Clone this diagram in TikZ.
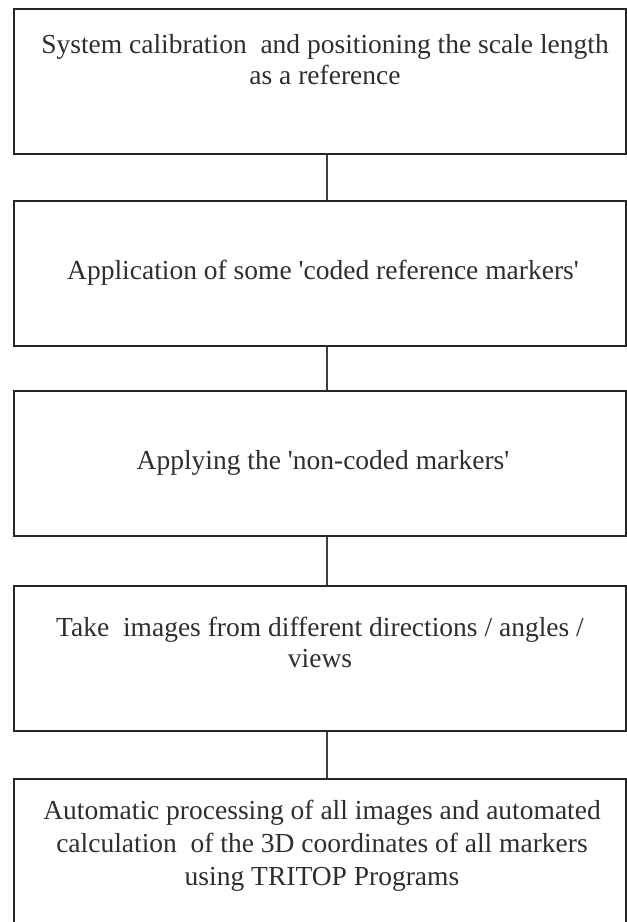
\documentclass[tikz,border=0pt]{standalone}
\usepackage{fontspec}
\setmainfont{Liberation Serif}
\begin{document}
\begin{tikzpicture}[x=1pt,y=-1pt,
  stepbox/.style={draw=black!85,line width=2pt,minimum width=612pt,minimum height=145pt,inner sep=0pt},
  steptext/.style={align=center,inner sep=0pt,text=black!82,font=\fontsize{27.5}{31}\selectfont},
  link/.style={draw=black!75,line width=1.5pt}]
\useasboundingbox (0,0) rectangle (627,922);
\node[stepbox] (s1) at (320,81.5) {};
\node[stepbox] (s2) at (320,273.5) {};
\node[stepbox] (s3) at (320,463.5) {};
\node[stepbox] (s4) at (320,658) {};
\node[stepbox] (s5) at (320,851) {};
\node[steptext] (t1) at (325,60) {System calibration \ and positioning the scale length\\as a reference};
\node[steptext] (t2) at (323,273) {Application of some \textquotesingle coded reference markers\textquotesingle};
\node[steptext] (t3) at (323,463) {Applying the \textquotesingle non-coded markers\textquotesingle};
\node[steptext] (t4) at (320,642) {Take \ images from different directions / angles /\\views};
\node[steptext,font=\fontsize{27.5}{33}\selectfont] (t5) at (322,846) {Automatic processing of all images and automated\\calculation \ of the 3D coordinates of all markers\\using TRITOP Programs};
\draw[link] (327,0 |- s1.south) -- (327,0 |- s2.north);
\draw[link] (327,0 |- s2.south) -- (327,0 |- s3.north);
\draw[link] (327,0 |- s3.south) -- (327,0 |- s4.north);
\draw[link] (327,0 |- s4.south) -- (327,0 |- s5.north);
\end{tikzpicture}
\end{document}
